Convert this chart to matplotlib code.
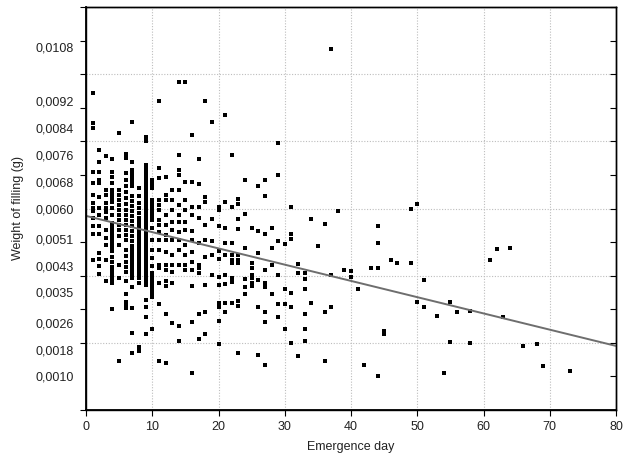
import matplotlib
matplotlib.use("Agg")
import matplotlib.pyplot as plt
import numpy as np

# weights (g) read per emergence day, days 1..33 (dense part)
w01 = [0.00944, 0.00855, 0.00840, 0.00709, 0.00676, 0.00640, 0.00616, 0.00602, 0.00593, 0.00572, 0.00548, 0.00524, 0.00447]
w02 = [0.00774, 0.00739, 0.00709, 0.00685, 0.00676, 0.00634, 0.00602, 0.00581, 0.00548, 0.00524, 0.00468, 0.00450, 0.00429, 0.00405]
w03 = [0.00756, 0.00655, 0.00640, 0.00616, 0.00602, 0.00590, 0.00572, 0.00536, 0.00512, 0.00491, 0.00447, 0.00384]
w04 = [0.00747, 0.00709, 0.00694, 0.00676, 0.00655, 0.00643, 0.00631, 0.00619, 0.00602, 0.00581, 0.00557, 0.00545, 0.00533,
       0.00521, 0.00509, 0.00497, 0.00485, 0.00473, 0.00456, 0.00441, 0.00426, 0.00414, 0.00402, 0.00390, 0.00378, 0.00301]
w05 = [0.00825, 0.00655, 0.00640, 0.00625, 0.00610, 0.00596, 0.00581, 0.00566, 0.00551, 0.00536, 0.00518, 0.00491, 0.00432,
       0.00393, 0.00146]
w06 = [0.00762, 0.00750, 0.00706, 0.00685, 0.00667, 0.00649, 0.00631, 0.00613, 0.00596, 0.00581, 0.00566, 0.00551, 0.00536,
       0.00521, 0.00506, 0.00476, 0.00459, 0.00441, 0.00426, 0.00411, 0.00384, 0.00345, 0.00322, 0.00313, 0.00304]
w07 = [0.00858, 0.00739, 0.00715, 0.00703, 0.00691, 0.00679, 0.00667, 0.00637, 0.00622, 0.00608, 0.00593, 0.00578, 0.00563,
       0.00548, 0.00533, 0.00518, 0.00503, 0.00488, 0.00476, 0.00465, 0.00453, 0.00441, 0.00429, 0.00417, 0.00405, 0.00393,
       0.00366, 0.00304, 0.00229, 0.00170]
w08 = [0.00661, 0.00637, 0.00616, 0.00602, 0.00587, 0.00572, 0.00560, 0.00548, 0.00536, 0.00524, 0.00512, 0.00500, 0.00488,
       0.00476, 0.00465, 0.00453, 0.00441, 0.00429, 0.00417, 0.00405, 0.00393, 0.00378, 0.00188, 0.00176]
w09 = [0.00813, 0.00801, 0.00730, 0.00718, 0.00706, 0.00694, 0.00682, 0.00670, 0.00658, 0.00646, 0.00634, 0.00622, 0.00610,
       0.00599, 0.00587, 0.00575, 0.00563, 0.00551, 0.00539, 0.00527, 0.00515, 0.00503, 0.00491, 0.00479, 0.00468, 0.00456,
       0.00444, 0.00432, 0.00420, 0.00408, 0.00396, 0.00384, 0.00372, 0.00328, 0.00307, 0.00277, 0.00226]
w10 = [0.00685, 0.00673, 0.00661, 0.00625, 0.00613, 0.00602, 0.00590, 0.00578, 0.00566, 0.00542, 0.00506, 0.00476, 0.00453,
       0.00429, 0.00408, 0.00396, 0.00384, 0.00372, 0.00360, 0.00348, 0.00337, 0.00241]
w11 = [0.00920, 0.00721, 0.00691, 0.00625, 0.00610, 0.00596, 0.00566, 0.00551, 0.00530, 0.00506, 0.00476, 0.00432, 0.00423,
       0.00378, 0.00316, 0.00146]
w12 = [0.00694, 0.00640, 0.00625, 0.00581, 0.00551, 0.00521, 0.00506, 0.00471, 0.00432, 0.00417, 0.00384, 0.00369, 0.00286, 0.00140]
w13 = [0.00655, 0.00625, 0.00596, 0.00560, 0.00536, 0.00506, 0.00462, 0.00432, 0.00411, 0.00378, 0.00259]
w14 = [0.00977, 0.00759, 0.00715, 0.00700, 0.00655, 0.00610, 0.00581, 0.00560, 0.00530, 0.00506, 0.00476, 0.00432, 0.00250, 0.00205]
w15 = [0.00977, 0.00679, 0.00625, 0.00596, 0.00560, 0.00536, 0.00491, 0.00462, 0.00432, 0.00417]
w16 = [0.00819, 0.00679, 0.00605, 0.00581, 0.00533, 0.00506, 0.00471, 0.00441, 0.00417, 0.00369, 0.00262, 0.00110]
w17 = [0.00747, 0.00673, 0.00605, 0.00572, 0.00497, 0.00432, 0.00423, 0.00408, 0.00286, 0.00211]
w18 = [0.00920, 0.00634, 0.00619, 0.00551, 0.00506, 0.00456, 0.00372, 0.00292, 0.00226]
w19 = [0.00858, 0.00569, 0.00503, 0.00462, 0.00402]
w20 = [0.00605, 0.00596, 0.00548, 0.00473, 0.00450, 0.00396, 0.00372, 0.00319, 0.00307, 0.00265, 0.00197]
w21 = [0.00878, 0.00619, 0.00542, 0.00497, 0.00462, 0.00402, 0.00375, 0.00319, 0.00292]
w22 = [0.00759, 0.00605, 0.00497, 0.00462, 0.00447, 0.00438, 0.00393, 0.00381, 0.00319]
w23 = [0.00628, 0.00613, 0.00569, 0.00539, 0.00462, 0.00447, 0.00438, 0.00325, 0.00310, 0.00170]
w24 = [0.00685, 0.00584, 0.00482, 0.00390, 0.00366, 0.00345]
w25 = [0.00542, 0.00438, 0.00423, 0.00402, 0.00393, 0.00378, 0.00369]
w26 = [0.00667, 0.00533, 0.00468, 0.00387, 0.00307, 0.00164]
w27 = [0.00685, 0.00637, 0.00524, 0.00417, 0.00378, 0.00366, 0.00292, 0.00262, 0.00134]
w28 = [0.00542, 0.00482, 0.00432, 0.00345]
w29 = [0.00795, 0.00700, 0.00503, 0.00402, 0.00316, 0.00277]
w30 = [0.00494, 0.00360, 0.00316, 0.00241]
w31 = [0.00605, 0.00524, 0.00509, 0.00348, 0.00307, 0.00200]
w32 = [0.00435, 0.00408, 0.00161]
w33 = [0.00408, 0.00390, 0.00360, 0.00286, 0.00241, 0.00205]

# sparse part, day 34 onwards
late_days = [34, 34, 35, 36, 36, 36, 37, 37, 37, 38, 39, 40, 40, 41, 42, 43, 44, 44, 44, 44, 45, 45,
             46, 47, 49, 49, 50, 50, 51, 51, 53, 54, 55, 55, 56, 58, 58, 61, 62, 63, 64, 66, 68, 69, 73]
late_weights = [0.00569, 0.00319, 0.00488, 0.00554, 0.00292, 0.00146, 0.01075, 0.00402, 0.00307, 0.00593,
                0.00417, 0.00414, 0.00396, 0.00360, 0.00134, 0.00423, 0.00548, 0.00497, 0.00423, 0.00101,
                0.00235, 0.00226, 0.00447, 0.00438, 0.00599, 0.00438, 0.00613, 0.00322, 0.00387, 0.00307,
                0.00280, 0.00110, 0.00322, 0.00203, 0.00292, 0.00295, 0.00200, 0.00447, 0.00479, 0.00277,
                0.00482, 0.00191, 0.00197, 0.00131, 0.00116]

# fitted line
fit_intercept = 0.00578
fit_slope = -0.0000484

ytick_values = [0.0010, 0.0018, 0.0026, 0.0035, 0.0043, 0.0051, 0.0060, 0.0068, 0.0076, 0.0084, 0.0092, 0.0108]
ytick_labels = ['0,0010', '0,0018', '0,0026', '0,0035', '0,0043', '0,0051', '0,0060', '0,0068', '0,0076',
                '0,0084', '0,0092', '0,0108']

early = [w01, w02, w03, w04, w05, w06, w07, w08, w09, w10, w11, w12, w13, w14, w15, w16, w17,
         w18, w19, w20, w21, w22, w23, w24, w25, w26, w27, w28, w29, w30, w31, w32, w33]
days = []
weights = []
for i, col in enumerate(early):
    days += [i + 1] * len(col)
    weights += col
days += late_days
weights += late_weights

plt.rcParams['font.family'] = ['Liberation Sans', 'DejaVu Sans']

fig = plt.figure(figsize=(6.3, 4.62), dpi=100)
ax = fig.add_axes([86 / 630, 52 / 462, 530 / 630, 403 / 462])

# dotted grid
for gx in range(10, 80, 10):
    ax.axvline(gx, color='#bdbdbd', lw=0.8, ls=(0, (1, 1.5)), zorder=0)
for gy in np.arange(0.002, 0.0121, 0.002):
    ax.axhline(gy, color='#bdbdbd', lw=0.8, ls=(0, (1, 1.5)), zorder=0)

ax.plot(days, weights, ls='none', marker='s', ms=3.3, color='black', mec='black', mew=0, zorder=3)

xl = np.array([0, 80])
ax.plot(xl, fit_intercept + fit_slope * xl, color='#6e6e6e', lw=1.4, zorder=4)

ax.set_xlim(0, 80)
ax.set_ylim(0, 0.012)

ax.set_xticks(range(0, 81, 10))
ax.tick_params(axis='x', direction='out', length=4, width=0.8, labelsize=9, labelcolor='#222222', pad=4)

ax.set_yticks(ytick_values)
ax.set_yticklabels(ytick_labels)
ax.set_yticks(np.arange(0, 0.0121, 0.001), minor=True)
ax.tick_params(axis='y', which='major', length=0, labelsize=9, labelcolor='#222222', pad=9)
ax.tick_params(axis='y', which='minor', direction='out', length=4, width=0.8)

# inward ticks on the right side
ax2 = ax.twinx()
ax2.set_ylim(0, 0.012)
ax2.set_yticks(np.arange(0, 0.0121, 0.001))
ax2.tick_params(axis='y', direction='in', length=4, width=0.8, labelright=False)

for a in (ax, ax2):
    for s in a.spines.values():
        s.set_color('black')
        s.set_linewidth(1.0)
ax.spines['left'].set_linewidth(1.3)
ax.spines['bottom'].set_linewidth(1.3)

ax.set_xlabel('Emergence day', fontsize=9, color='#222222', labelpad=6)
ax.set_ylabel('Weight of filling (g)', fontsize=9, color='#222222', labelpad=8)

fig.savefig('out.png', dpi=100)
